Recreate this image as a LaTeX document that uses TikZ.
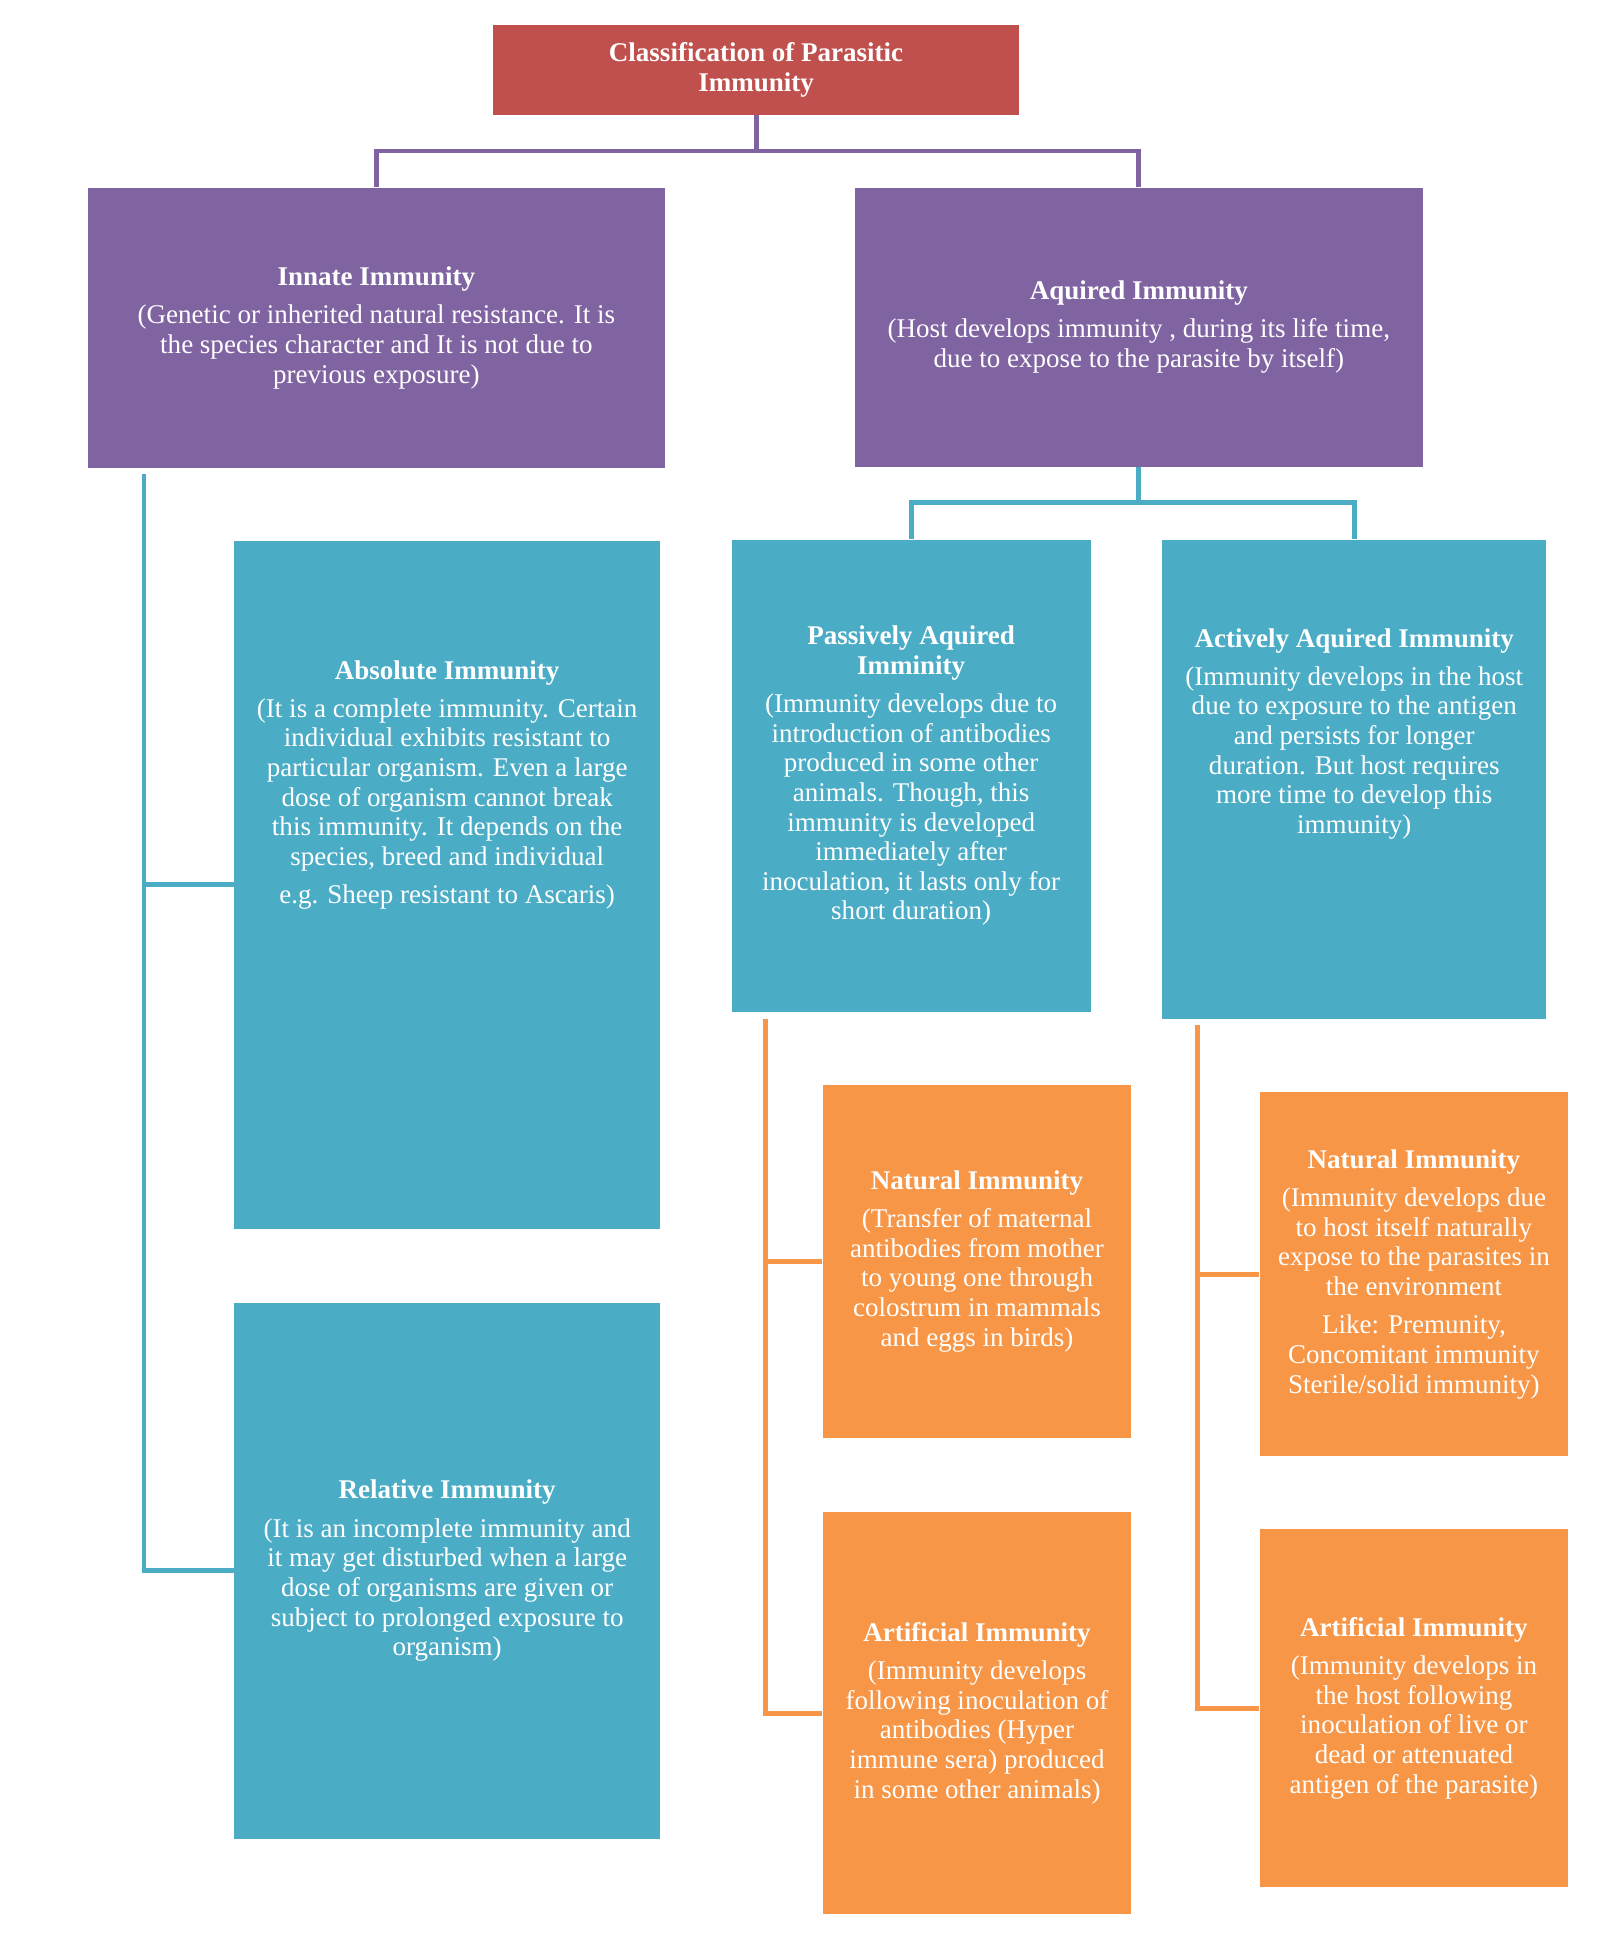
\documentclass[tikz,border=0pt]{standalone}
\usepackage{fontspec}
\setmainfont{Liberation Serif}
\definecolor{titlered}{HTML}{C0504D}
\definecolor{innerpurple}{HTML}{8064A2}
\definecolor{kindblue}{HTML}{4BACC6}
\definecolor{typeorange}{HTML}{F79646}
\tikzset{
  box/.style = {anchor=north west, inner sep=2pt, text=white, align=center,
                font=\fontsize{12.5}{13.7}\selectfont},
  link/.style = {line width=2.3pt}
}
\begin{document}
\begin{tikzpicture}[x=0.02cm, y=-0.02cm]
    \useasboundingbox (0,0) rectangle (1300,1573);

    % title
    \node[box, fill=titlered, minimum width=8.56cm, minimum height=1.46cm] (title) at (400,20)
        {\bfseries Classification of Parasitic\\\bfseries Immunity};

    % first level
    \node[box, fill=innerpurple, minimum width=9.38cm, minimum height=4.56cm] (innate) at (71,152)
        {\textbf{Innate Immunity}\\[4pt](Genetic or inherited natural resistance. It is\\the species character and It is not due to\\previous exposure)};
    \node[box, fill=innerpurple, minimum width=9.24cm, minimum height=4.54cm] (aquired) at (694,152)
        {\textbf{Aquired Immunity}\\[4pt](Host develops immunity , during its life time,\\due to expose to the parasite by itself)};

    % second level
    \node[box, fill=kindblue, minimum width=6.92cm, minimum height=11.18cm] (absolute) at (190,439)
        {\textbf{Absolute Immunity}\\[4pt](It is a complete immunity. Certain\\individual exhibits resistant to\\particular organism. Even a large\\dose of organism cannot break\\this immunity. It depends on the\\species, breed and individual\\[4pt]e.g. Sheep resistant to Ascaris)\\[6.5em]};
    \node[box, fill=kindblue, minimum width=6.92cm, minimum height=8.72cm] (relative) at (190,1058)
        {\textbf{Relative Immunity}\\[4pt](It is an incomplete immunity and\\it may get disturbed when a large\\dose of organisms are given or\\subject to prolonged exposure to\\organism)};
    \node[box, fill=kindblue, minimum width=5.84cm, minimum height=7.68cm] (passive) at (594,438)
        {\textbf{Passively Aquired}\\\textbf{Imminity}\\[4pt](Immunity develops due to\\introduction of antibodies\\produced in some other\\animals. Though, this\\immunity is developed\\immediately after\\inoculation, it lasts only for\\short duration)};
    \node[box, fill=kindblue, minimum width=6.24cm, minimum height=7.8cm] (active) at (944,438)
        {\textbf{Actively Aquired Immunity}\\[4pt](Immunity develops in the host\\due to exposure to the antigen\\and persists for longer\\duration. But host requires\\more time to develop this\\immunity)\\[2.5em]};

    % third level
    \node[box, fill=typeorange, minimum width=5.02cm, minimum height=5.74cm] (pnatural) at (668,881)
        {\textbf{Natural Immunity}\\[4pt](Transfer of maternal\\antibodies from mother\\to young one through\\colostrum in mammals\\and eggs in birds)};
    \node[box, fill=typeorange, minimum width=5.02cm, minimum height=6.54cm] (partificial) at (668,1228)
        {\textbf{Artificial Immunity}\\[4pt](Immunity develops\\following inoculation of\\antibodies (Hyper\\immune sera) produced\\in some other animals)};
    \node[box, fill=typeorange, minimum width=5.02cm, minimum height=5.92cm] (anatural) at (1023,887)
        {\textbf{Natural Immunity}\\[4pt](Immunity develops due\\to host itself naturally\\expose to the parasites in\\the environment\\[4pt]Like: Premunity,\\Concomitant immunity\\Sterile/solid immunity)};
    \node[box, fill=typeorange, minimum width=5.02cm, minimum height=5.82cm] (aartificial) at (1023,1242)
        {\textbf{Artificial Immunity}\\[4pt](Immunity develops in\\the host following\\inoculation of live or\\dead or attenuated\\antigen of the parasite)};

    % connectors
    \draw[link, innerpurple] (title.south) -- ++(0,29) coordinate (tjoin);
    \draw[link, innerpurple] (innate.north) |- (tjoin) -| (aquired.north);

    \coordinate (ispine) at (117,385);
    \draw[link, kindblue] (ispine) |- (absolute.west);
    \draw[link, kindblue] (ispine) |- (relative.west);
    \draw[link, kindblue] (aquired.south) -- ++(0,29) coordinate (ajoin);
    \draw[link, kindblue] (passive.north) |- (ajoin) -| (active.north);

    \coordinate (pspine) at (622,828);
    \draw[link, typeorange] (pspine) |- (pnatural.west);
    \draw[link, typeorange] (pspine) |- (partificial.west);
    \coordinate (aspine) at (973,833);
    \draw[link, typeorange] (aspine) |- (anatural.west);
    \draw[link, typeorange] (aspine) |- (aartificial.west);
\end{tikzpicture}
\end{document}
